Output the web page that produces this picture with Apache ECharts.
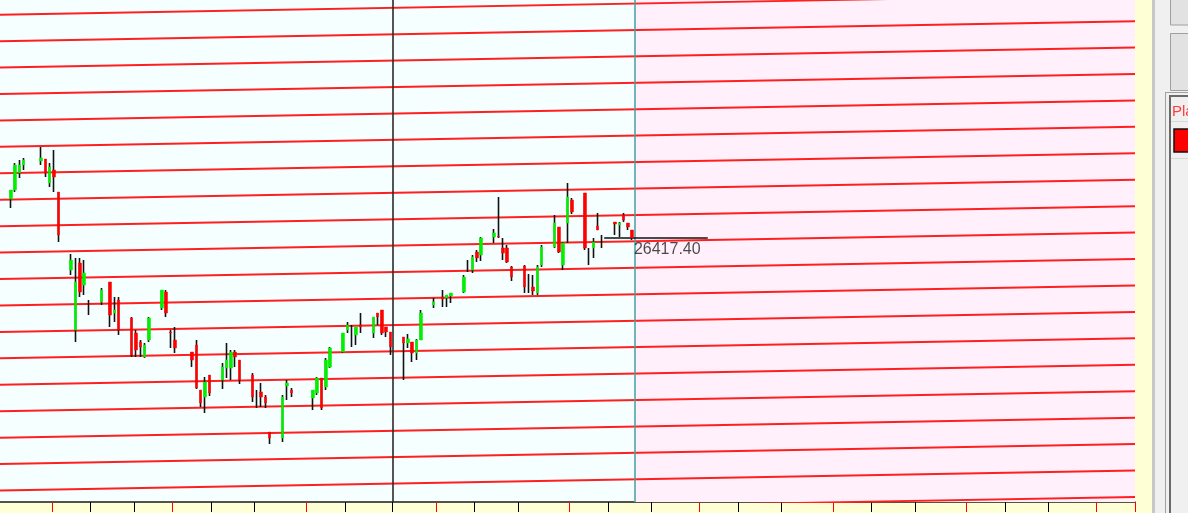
<!DOCTYPE html>
<html><head><meta charset="utf-8">
<script src="https://cdn.jsdelivr.net/npm/echarts@6/dist/echarts.min.js"></script>
<style>html,body{margin:0;padding:0;background:#ffffd6}#c{width:1188px;height:513px}</style>
</head><body><div id="c"></div>
<script>
// ---- data ----
// bar slot of every candle (5 bars per session, sessions 7 slots apart)
const barSlot = [2,3,4,5, 9,10,11,12,13, 16,17,18,19,20, 23,25,26,27, 30,31,32,33,34, 37,38,39,40,
                 44,45,46,47,48, 51,52,53,54,55, 58,59,60,61,62, 65,66,67, 72,73,74,75,76, 79,80,81,82,83,
                 86,87,88,89,90, 93,94,95,96,97, 100,102,103,104, 107,108,109,110,111, 114,115,116,117,118,
                 121,122,123,124,125, 128,129,130,131,132, 135,136,137,138,139, 142,143,144,145,146];
const opens  = [26573,26609,26677,26709, 26725,26733,26637,26689,26601, 26289,26049,26317,26229,26147, 26161,26241,26117,26169, 26097,26037,26001,25941,26009, 26137,26201,26041,26009,
                25961,25989,25809,25781,25869, 25849,25897,25897,25961,25929, 25869,25787,25801,25781,25641, 25617,25825,25809, 25777,25797,25857,25821,25901, 25961,26049,26047,26029,26069,
                26037,26117,26129,26061,26041, 26021,25997,26001,25957,26009, 26149,26181,26177,26185, 26201,26307,26289,26361,26349, 26421,26425,26377,26377,26301,
                26305,26247,26221,26197,26309, 26381,26461,26309,26477,26569, 26597,26347,26377,26465,26407, 26481,26469,26509,26477,26449];
const closes = [26609,26709,26709,26729, 26737,26677,26701,26661,26429, 26329,26241,26201,26277,26147, 26209,26109,26129,26049, 25949,25969,25981,25989,26097, 26209,26117,26037,25977,
                25929,25817,25757,25841,25797, 25901,25929,25961,25941,25849, 25781,25787,25781,25757,25617, 25781,25837,25797, 25809,25857,25737,25929,25977, 26037,26069,26047,26061,26061,
                26101,26101,26037,26041,25981, 25997,26013,25957,26009,26117, 26161,26173,26189,26197, 26261,26307,26341,26337,26417, 26437,26421,26357,26321,26261,
                26221,26247,26205,26301,26381, 26477,26361,26397,26581,26521, 26377,26347,26401,26449,26407, 26473,26477,26489,26461,26417.40];
const lows   = [26537,26601,26657,26689, 26709,26661,26621,26601,26401, 26269,26001,26181,26189,26109, 26149,26061,26081,26029, 25941,25941,25941,25937,26001, 26129,26101,25977,25957,
                25901,25813,25741,25717,25785, 25813,25857,25849,25901,25833, 25761,25737,25741,25737,25593, 25601,25769,25781, 25729,25789,25729,25809,25897, 25957,26037,25981,25989,26037,
                26017,26069,26029,26021,25949, 25849,25977,25921,25929,26009, 26137,26141,26141,26157, 26197,26281,26277,26321,26325, 26397,26417,26329,26317,26245,
                26197,26197,26189,26189,26301, 26377,26357,26289,26397,26513, 26369,26309,26337,26449,26377, 26429,26421,26481,26449,26409];
const highs  = [26609,26717,26729,26737, 26781,26733,26717,26769,26601, 26353,26337,26337,26329,26169, 26217,26241,26181,26181, 26101,26049,26009,25997,26101, 26209,26209,26049,26061,
                25961,26009,25809,25861,25869, 25917,25997,25969,25969,25929, 25877,25809,25837,25789,25641, 25789,25849,25817, 25809,25861,25857,25937,25981, 26037,26081,26069,26061,26117,
                26101,26117,26129,26061,26041, 26021,26033,26001,26013,26129, 26177,26209,26189,26197, 26269,26329,26349,26369,26421, 26453,26581,26417,26389,26305,
                26309,26273,26269,26309,26389, 26509,26461,26401,26637,26577, 26597,26377,26417,26517,26429, 26481,26481,26517,26477,26449];
const lastClose = 26417.40;
// sloped level lines: price at the left edge and at the right edge
const levelStart = [27416,27310,27204,27099,26993,26887,26782,26676,26570,26464,26359,26253,26147,26041,25936,25830,25724,25618,25513,25407,25301];
const levelEnd   = [27496,27390,27284,27179,27073,26967,26862,26756,26650,26544,26439,26333,26227,26121,26016,25910,25804,25698,25593,25487,25381];
const blackTicks = [21,31,49,59,80,91,110,120,141,151,171,181,202,212,233,243];
const redTicks   = [12,40,71,101,132,162,193,224,254];
const nSlots = 263;          // bar slots across the plot (history + future)
const nowSlot = 147;         // first future slot
const markerSlot = 91;       // dark vertical marker
const priceLineFrom = 140, priceLineTo = 164;
const yMin = 25361, yMax = 27369;

// ---- build ----
const slots = Array.from({length: nSlots}, (_, i) => String(i + 1));
const empty = ['-','-','-','-'];
const wickData = slots.map(() => empty);
const bodyData = slots.map(() => empty);
barSlot.forEach((b, j) => {
  const o = opens[j], c = closes[j];
  wickData[b] = [o, c, lows[j], highs[j]];
  bodyData[b] = (o === c) ? empty : [o, c, Math.min(o, c), Math.max(o, c)];
});
const blackSet = new Set(blackTicks), redSet = new Set(redTicks);

const chart = echarts.init(document.getElementById('c'), null, {renderer: 'canvas'});
chart.setOption({
  animation: false,
  backgroundColor: '#ffffd6',
  grid: {left: 0, right: 53, top: 0, bottom: 11, show: true, backgroundColor: '#f5ffff', borderWidth: 0},
  xAxis: [
    {type: 'category', position: 'bottom', data: slots, boundaryGap: true,
     axisLine: {show: true, lineStyle: {color: '#1a1a1a', width: 1.5}},
     axisTick: {show: false}, axisLabel: {show: false}, splitLine: {show: false}},
    {type: 'value', position: 'bottom', min: 0, max: nSlots, show: false},
    {type: 'category', position: 'bottom', data: slots, boundaryGap: true, axisLine: {show: false},
     axisTick: {show: true, inside: false, length: 10, interval: (i) => blackSet.has(i), lineStyle: {color: '#000', width: 1}},
     axisLabel: {show: false}, splitLine: {show: false}},
    {type: 'category', position: 'bottom', data: slots, boundaryGap: true, axisLine: {show: false},
     axisTick: {show: true, inside: false, length: 10, interval: (i) => redSet.has(i), lineStyle: {color: '#ff0000', width: 1}},
     axisLabel: {show: false}, splitLine: {show: false}}
  ],
  yAxis: {type: 'value', min: yMin, max: yMax, show: false},
  graphic: [
    {type: 'rect', shape: {x: 1152, y: 0, width: 36, height: 513}, style: {fill: '#f0f0f0'}},
    {type: 'rect', shape: {x: 1152, y: 0, width: 3, height: 513}, style: {fill: '#c8c8c8'}},
    {type: 'rect', shape: {x: 1170.5, y: -1, width: 20, height: 26}, style: {fill: '#e2e2e2', stroke: '#a0a0a0', lineWidth: 1}},
    {type: 'rect', shape: {x: 1170.5, y: 33.5, width: 20, height: 57}, style: {fill: '#e2e2e2', stroke: '#a0a0a0', lineWidth: 1}},
    {type: 'line', shape: {x1: 1165, y1: 92.5, x2: 1188, y2: 92.5}, style: {stroke: '#a0a0a0', lineWidth: 1}},
    {type: 'line', shape: {x1: 1165.5, y1: 92, x2: 1165.5, y2: 513}, style: {stroke: '#a0a0a0', lineWidth: 1}},
    {type: 'line', shape: {x1: 1169, y1: 96, x2: 1188, y2: 96}, style: {stroke: '#6a6a6a', lineWidth: 2}},
    {type: 'line', shape: {x1: 1170, y1: 96, x2: 1170, y2: 513}, style: {stroke: '#6a6a6a', lineWidth: 2}},
    {type: 'text', style: {x: 1172, y: 112, text: 'Pla', fill: '#ff3b3b', font: '15px "Liberation Sans", Arial, sans-serif', verticalAlign: 'middle'}},
    {type: 'line', shape: {x1: 1171, y1: 121.5, x2: 1188, y2: 121.5}, style: {stroke: '#d8d8d8', lineWidth: 1}},
    {type: 'rect', shape: {x: 1174, y: 129, width: 20, height: 23}, style: {fill: '#ff0000', stroke: '#111', lineWidth: 1.5}},
    {type: 'line', shape: {x1: 1171, y1: 158.5, x2: 1188, y2: 158.5}, style: {stroke: '#d8d8d8', lineWidth: 1}}
  ],
  series: [
    {type: 'line', xAxisIndex: 1, data: [], z: 1, silent: true,
     markArea: {silent: true, itemStyle: {color: '#fff0fb'}, data: [[{xAxis: nowSlot}, {xAxis: nSlots}]]}},
    {type: 'lines', coordinateSystem: 'cartesian2d', xAxisIndex: 1, yAxisIndex: 0, z: 2, silent: true, clip: true,
     lineStyle: {color: '#ff1f1f', width: 1.8, opacity: 1},
     data: levelStart.map((s, i) => ({coords: [[0, s], [nSlots, levelEnd[i]]]}))},
    {type: 'line', xAxisIndex: 1, data: [], z: 3, silent: true,
     markLine: {symbol: 'none', silent: true, label: {show: false},
       data: [{xAxis: markerSlot, lineStyle: {color: '#2b2b2b', width: 1.6, type: 'solid'}},
              {xAxis: nowSlot, lineStyle: {color: '#45a0a0', width: 1.5, type: 'solid'}}]}},
    {type: 'candlestick', xAxisIndex: 0, data: wickData, z: 4, barWidth: 0.5, silent: true,
     itemStyle: {color: '#111', color0: '#111', borderColor: '#111', borderColor0: '#111', borderWidth: 1.6}},
    {type: 'candlestick', xAxisIndex: 0, data: bodyData, z: 5, barWidth: 3, silent: true,
     itemStyle: {color: '#00f000', color0: '#ff0000', borderColor: '#00f000', borderColor0: '#ff0000', borderWidth: 0.5}},
    {type: 'scatter', xAxisIndex: 1, data: [[nowSlot, lastClose]], symbolSize: 1, z: 6, silent: true,
     itemStyle: {color: 'rgba(0,0,0,0)'},
     label: {show: true, position: [0, 4], align: 'left', verticalAlign: 'top', formatter: () => lastClose.toFixed(2),
       color: '#1e1e1e', fontSize: 16, fontFamily: '"Liberation Sans", Arial, sans-serif'},
     markLine: {symbol: 'none', silent: true, label: {show: false},
       lineStyle: {color: '#111', width: 1.5, type: 'solid'},
       data: [[{coord: [priceLineFrom, lastClose]}, {coord: [priceLineTo, lastClose]}]]}}
  ]
});
</script></body></html>
